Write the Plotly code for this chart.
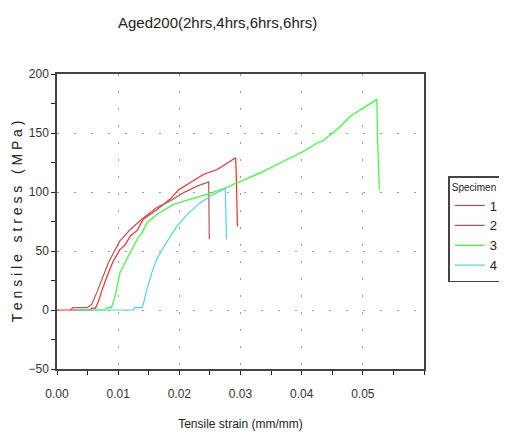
import plotly.graph_objects as go

# ---- data ----
s1_x = [0.0, 0.0054, 0.0057, 0.0063, 0.0068, 0.0073, 0.0082, 0.0092, 0.0103, 0.0111, 0.0120, 0.0131,
        0.0141, 0.0163, 0.0185, 0.0199, 0.0218, 0.0240, 0.0262, 0.0292, 0.0293, 0.0295]
s1_y = [0.0, 0.0, 1.6, 1.6, 7.6, 16.0, 28.8, 41.5, 51.4, 55.0, 62.7, 67.5,
        77.0, 85.0, 94.0, 102.0, 108.0, 115.0, 119.0, 129.0, 115.0, 71.0]

s2_x = [0.0022, 0.0026, 0.0049, 0.0057, 0.0065, 0.0073, 0.0084, 0.0095, 0.0103, 0.0120, 0.0141,
        0.0163, 0.0185, 0.0207, 0.0229, 0.0248, 0.0249]
s2_y = [0.0, 2.0, 2.0, 4.8, 14.7, 26.0, 40.0, 51.0, 58.5, 68.4, 78.0,
        86.8, 92.4, 99.5, 105.0, 108.5, 60.0]

s3_x = [0.0030, 0.0078, 0.0082, 0.0089, 0.0095, 0.0103, 0.0114, 0.0122, 0.0131, 0.0139, 0.0147,
        0.0163, 0.0191, 0.0218, 0.0245, 0.0273, 0.0289, 0.0316, 0.0333, 0.0355, 0.0371,
        0.0387, 0.0404, 0.0426, 0.0434, 0.0448, 0.0464, 0.0480, 0.0497, 0.0508, 0.0523,
        0.0524, 0.0527]
s3_y = [0.0, 0.0, 2.0, 2.0, 12.0, 31.7, 43.0, 51.4, 60.0, 65.6, 74.0,
        81.0, 89.6, 94.0, 98.0, 103.0, 106.5, 112.2, 116.4, 122.0, 126.3,
        130.5, 134.7, 141.8, 143.2, 148.9, 155.9, 164.4, 170.0, 172.9, 178.5,
        146.0, 102.0]

s4_x = [0.0030, 0.0125, 0.0127, 0.0139, 0.0141, 0.0147, 0.0155, 0.0163, 0.0172, 0.0182, 0.0196,
        0.0213, 0.0234, 0.0256, 0.0275, 0.0276, 0.0277]
s4_y = [0.0, 0.0, 2.0, 2.0, 4.8, 17.5, 31.7, 43.0, 51.4, 60.0, 71.0,
        81.0, 91.0, 98.0, 103.0, 85.0, 60.0]

names = ["1", "2", "3", "4"]
colors = ["#ff2a2a", "#b05858", "#33ff33", "#55d5d5"]

x_ticks = [0.0, 0.01, 0.02, 0.03, 0.04, 0.05]
x_ticktext = ["0.00", "0.01", "0.02", "0.03", "0.04", "0.05"]
y_ticks = [-50, 0, 50, 100, 150, 200]

FONT = "Liberation Sans Narrow, Liberation Sans, Arial, sans-serif"

fig = go.Figure()
for xs, ys, n, c in zip([s1_x, s2_x, s3_x, s4_x], [s1_y, s2_y, s3_y, s4_y], names, colors):
    fig.add_trace(go.Scatter(x=xs, y=ys, mode="lines", name=n,
                             line=dict(color=c, width=1.2)))

axis_common = dict(
    showline=True, linecolor="#444444", linewidth=1.5, mirror=True,
    showgrid=True, gridcolor="#9a9a9a", griddash="2px,15px", gridwidth=1,
    zeroline=False, ticks="outside", ticklen=4, tickcolor="#222222",
    tickfont=dict(family=FONT, size=12, color="#333333"),
)

fig.update_xaxes(range=[0, 0.06], tickvals=x_ticks, ticktext=x_ticktext,
                 minor=dict(dtick=0.005, tick0=0, ticks="outside", ticklen=4, tickcolor="#222222", showgrid=False),
                 ticklabelstandoff=9,
                 title=dict(text="Tensile strain (mm/mm)", font=dict(family=FONT, size=12, color="#222222"), standoff=19),
                 **axis_common)
fig.update_yaxes(range=[-50, 200], tickvals=y_ticks,
                 minor=dict(dtick=25, tick0=0, ticks="outside", ticklen=4, tickcolor="#222222", showgrid=False),
                 title=dict(text="T e n s i l e   s t r e s s   ( M P a )",
                            font=dict(family=FONT, size=14, color="#222222"), standoff=3),
                 **axis_common)

fig.update_layout(
    width=499, height=426,
    margin=dict(l=49, r=83, t=66, b=65, autoexpand=False),
    paper_bgcolor="white", plot_bgcolor="white",
    title=dict(text="Aged200(2hrs,4hrs,6hrs,6hrs)", x=0.42, xanchor="center",
               y=0.965, yanchor="middle", yref="container",
               font=dict(family=FONT, size=15, color="#222222")),
    showlegend=True,
    legend=dict(title=dict(text="Specimen #", font=dict(family=FONT, size=10, color="#222222")),
                x=1.066, xanchor="left", y=0.654, yanchor="top",
                bordercolor="#444444", borderwidth=1.5, bgcolor="white",
                font=dict(family=FONT, size=13, color="#222222"),
                itemwidth=30, tracegroupgap=0),
)

fig.write_html("out.html")
